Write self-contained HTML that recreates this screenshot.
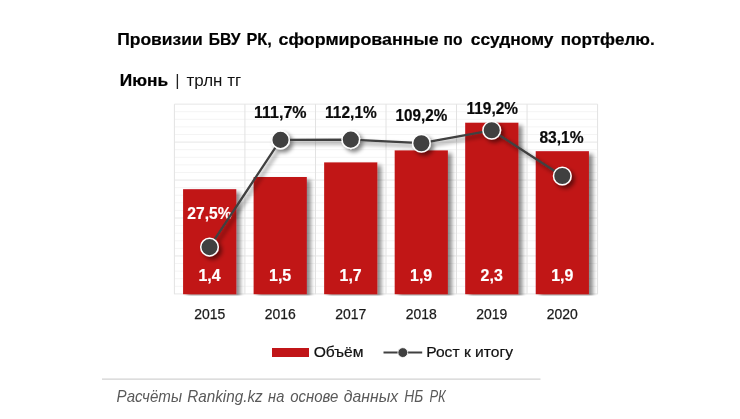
<!DOCTYPE html>
<html lang="ru"><head><meta charset="utf-8"><title>Провизии БВУ РК</title>
<style>
html,body{margin:0;padding:0;background:#fff;}
body{width:740px;height:419px;overflow:hidden;}
svg{display:block;font-family:"Liberation Sans",sans-serif;}
.b{font-weight:bold;}
.i{font-style:italic;}
</style></head><body>
<svg width="740" height="419" viewBox="0 0 740 419">
<defs>
<filter id="sb" x="-20%" y="-10%" width="150%" height="120%"><feGaussianBlur in="SourceAlpha" stdDeviation="2.3"/><feOffset dx="4" dy="3"/><feComponentTransfer><feFuncA type="linear" slope="0.46"/></feComponentTransfer><feMerge><feMergeNode/><feMergeNode in="SourceGraphic"/></feMerge></filter>
<filter id="sl" x="-10%" y="-10%" width="120%" height="130%"><feGaussianBlur in="SourceAlpha" stdDeviation="2.1"/><feOffset dx="3" dy="3"/><feComponentTransfer><feFuncA type="linear" slope="0.5"/></feComponentTransfer><feMerge><feMergeNode/><feMergeNode in="SourceGraphic"/></feMerge></filter>
<clipPath id="cp"><rect x="160" y="95" width="460" height="200.6"/></clipPath>
</defs>
<rect width="740" height="419" fill="#fff"/>
<text class="b" font-size="16.5" fill="#000" stroke="#000" stroke-width="0.2" y="44.6"><tspan x="117.2" textLength="85.5" lengthAdjust="spacingAndGlyphs">Провизии</tspan> <tspan x="208.8" textLength="31.7" lengthAdjust="spacingAndGlyphs">БВУ</tspan> <tspan x="246.5" textLength="25.3" lengthAdjust="spacingAndGlyphs">РК,</tspan> <tspan x="278.6" textLength="160.0" lengthAdjust="spacingAndGlyphs">сформированные</tspan> <tspan x="443.5" textLength="18.9" lengthAdjust="spacingAndGlyphs">по</tspan> <tspan x="470.8" textLength="82.7" lengthAdjust="spacingAndGlyphs">ссудному</tspan> <tspan x="560.7" textLength="94.0" lengthAdjust="spacingAndGlyphs">портфелю.</tspan></text>
<text font-size="16.4" fill="#000" y="85.6"><tspan class="b" stroke="#000" stroke-width="0.2" x="119.8" textLength="48.4" lengthAdjust="spacingAndGlyphs">Июнь</tspan> <tspan x="175.2" fill="#222">|</tspan> <tspan x="186.6" textLength="54.5" lengthAdjust="spacingAndGlyphs" fill="#111">трлн тг</tspan></text>
<g><line x1="174.4" x2="597.6" y1="104.15" y2="104.15" stroke="#e6e6e6" stroke-width="1"/><line x1="174.4" x2="597.6" y1="111.74" y2="111.74" stroke="#f4f4f4" stroke-width="1"/><line x1="174.4" x2="597.6" y1="119.33" y2="119.33" stroke="#f4f4f4" stroke-width="1"/><line x1="174.4" x2="597.6" y1="126.92" y2="126.92" stroke="#f4f4f4" stroke-width="1"/><line x1="174.4" x2="597.6" y1="134.51" y2="134.51" stroke="#f4f4f4" stroke-width="1"/><line x1="174.4" x2="597.6" y1="142.10" y2="142.10" stroke="#e6e6e6" stroke-width="1"/><line x1="174.4" x2="597.6" y1="149.69" y2="149.69" stroke="#f4f4f4" stroke-width="1"/><line x1="174.4" x2="597.6" y1="157.28" y2="157.28" stroke="#f4f4f4" stroke-width="1"/><line x1="174.4" x2="597.6" y1="164.87" y2="164.87" stroke="#f4f4f4" stroke-width="1"/><line x1="174.4" x2="597.6" y1="172.46" y2="172.46" stroke="#f4f4f4" stroke-width="1"/><line x1="174.4" x2="597.6" y1="180.05" y2="180.05" stroke="#e6e6e6" stroke-width="1"/><line x1="174.4" x2="597.6" y1="187.64" y2="187.64" stroke="#f4f4f4" stroke-width="1"/><line x1="174.4" x2="597.6" y1="195.23" y2="195.23" stroke="#f4f4f4" stroke-width="1"/><line x1="174.4" x2="597.6" y1="202.82" y2="202.82" stroke="#f4f4f4" stroke-width="1"/><line x1="174.4" x2="597.6" y1="210.41" y2="210.41" stroke="#f4f4f4" stroke-width="1"/><line x1="174.4" x2="597.6" y1="218.00" y2="218.00" stroke="#e6e6e6" stroke-width="1"/><line x1="174.4" x2="597.6" y1="225.59" y2="225.59" stroke="#f4f4f4" stroke-width="1"/><line x1="174.4" x2="597.6" y1="233.18" y2="233.18" stroke="#f4f4f4" stroke-width="1"/><line x1="174.4" x2="597.6" y1="240.77" y2="240.77" stroke="#f4f4f4" stroke-width="1"/><line x1="174.4" x2="597.6" y1="248.36" y2="248.36" stroke="#f4f4f4" stroke-width="1"/><line x1="174.4" x2="597.6" y1="255.95" y2="255.95" stroke="#e6e6e6" stroke-width="1"/><line x1="174.4" x2="597.6" y1="263.54" y2="263.54" stroke="#f4f4f4" stroke-width="1"/><line x1="174.4" x2="597.6" y1="271.13" y2="271.13" stroke="#f4f4f4" stroke-width="1"/><line x1="174.4" x2="597.6" y1="278.72" y2="278.72" stroke="#f4f4f4" stroke-width="1"/><line x1="174.4" x2="597.6" y1="286.31" y2="286.31" stroke="#f4f4f4" stroke-width="1"/><line x1="174.4" x2="597.6" y1="293.90" y2="293.90" stroke="#e6e6e6" stroke-width="1"/><line x1="174.40" x2="174.40" y1="104.15" y2="294.2" stroke="#e2e2e2" stroke-width="1"/><line x1="244.93" x2="244.93" y1="104.15" y2="294.2" stroke="#e2e2e2" stroke-width="1"/><line x1="315.47" x2="315.47" y1="104.15" y2="294.2" stroke="#e2e2e2" stroke-width="1"/><line x1="386.00" x2="386.00" y1="104.15" y2="294.2" stroke="#e2e2e2" stroke-width="1"/><line x1="456.53" x2="456.53" y1="104.15" y2="294.2" stroke="#e2e2e2" stroke-width="1"/><line x1="527.07" x2="527.07" y1="104.15" y2="294.2" stroke="#e2e2e2" stroke-width="1"/><line x1="597.60" x2="597.60" y1="104.15" y2="294.2" stroke="#e2e2e2" stroke-width="1"/></g>
<g clip-path="url(#cp)"><g filter="url(#sb)" fill="#c11518"><rect x="183.07" y="189.2" width="53.2" height="105.00"/><rect x="253.60" y="177.0" width="53.2" height="117.20"/><rect x="324.13" y="162.4" width="53.2" height="131.80"/><rect x="394.67" y="150.4" width="53.2" height="143.80"/><rect x="465.20" y="122.7" width="53.2" height="171.50"/><rect x="535.73" y="151.2" width="53.2" height="143.00"/></g></g>
<g class="b" font-size="16.4" fill="#fff" stroke="#fff" stroke-width="0.2"><text x="198.47" y="281.4" textLength="22.2" lengthAdjust="spacingAndGlyphs">1,4</text><text x="269.00" y="281.4" textLength="22.2" lengthAdjust="spacingAndGlyphs">1,5</text><text x="339.53" y="281.4" textLength="22.2" lengthAdjust="spacingAndGlyphs">1,7</text><text x="410.07" y="281.4" textLength="22.2" lengthAdjust="spacingAndGlyphs">1,9</text><text x="480.60" y="281.4" textLength="22.2" lengthAdjust="spacingAndGlyphs">2,3</text><text x="551.13" y="281.4" textLength="22.2" lengthAdjust="spacingAndGlyphs">1,9</text></g>
<g class="b" font-size="16.4"><text x="187.3" y="218.7" fill="#fff" stroke="#fff" stroke-width="0.2" textLength="44.2" lengthAdjust="spacingAndGlyphs">27,5%</text><text x="254.1" y="118.0" fill="#0a0a0a" stroke="#0a0a0a" stroke-width="0.2" textLength="52.5" lengthAdjust="spacingAndGlyphs">111,7%</text><text x="325.1" y="118.0" fill="#0a0a0a" stroke="#0a0a0a" stroke-width="0.2" textLength="51.7" lengthAdjust="spacingAndGlyphs">112,1%</text><text x="395.6" y="120.8" fill="#0a0a0a" stroke="#0a0a0a" stroke-width="0.2" textLength="51.7" lengthAdjust="spacingAndGlyphs">109,2%</text><text x="466.5" y="114.2" fill="#0a0a0a" stroke="#0a0a0a" stroke-width="0.2" textLength="51.5" lengthAdjust="spacingAndGlyphs">119,2%</text><text x="539.4" y="142.8" fill="#0a0a0a" stroke="#0a0a0a" stroke-width="0.2" textLength="44.2" lengthAdjust="spacingAndGlyphs">83,1%</text></g>
<g filter="url(#sl)"><polyline points="209.5,247.1 280.5,139.9 350.8,139.6 421.4,143.2 491.7,130.3 562.3,176.0" fill="none" stroke="#404040" stroke-width="2.3" stroke-linejoin="round"/><circle cx="209.5" cy="247.1" r="8.8" fill="#404040" stroke="#fff" stroke-width="1.5"/><circle cx="280.5" cy="139.9" r="8.8" fill="#404040" stroke="#fff" stroke-width="1.5"/><circle cx="350.8" cy="139.6" r="8.8" fill="#404040" stroke="#fff" stroke-width="1.5"/><circle cx="421.4" cy="143.2" r="8.8" fill="#404040" stroke="#fff" stroke-width="1.5"/><circle cx="491.7" cy="130.3" r="8.8" fill="#404040" stroke="#fff" stroke-width="1.5"/><circle cx="562.3" cy="176.0" r="8.8" fill="#404040" stroke="#fff" stroke-width="1.5"/></g>
<g font-size="14.4" fill="#1a1a1a" stroke="#1a1a1a" stroke-width="0.25"><text x="194.17" y="318.8" textLength="31" lengthAdjust="spacingAndGlyphs">2015</text><text x="264.70" y="318.8" textLength="31" lengthAdjust="spacingAndGlyphs">2016</text><text x="335.23" y="318.8" textLength="31" lengthAdjust="spacingAndGlyphs">2017</text><text x="405.77" y="318.8" textLength="31" lengthAdjust="spacingAndGlyphs">2018</text><text x="476.30" y="318.8" textLength="31" lengthAdjust="spacingAndGlyphs">2019</text><text x="546.83" y="318.8" textLength="31" lengthAdjust="spacingAndGlyphs">2020</text></g>
<rect x="272" y="348" width="37" height="9" fill="#c11518"/><text x="313.7" y="356.7" font-size="14.9" fill="#111" stroke="#111" stroke-width="0.2" textLength="49.8" lengthAdjust="spacingAndGlyphs">Объём</text><line x1="383.5" x2="422.2" y1="352.6" y2="352.6" stroke="#404040" stroke-width="2"/><circle cx="402.8" cy="352.6" r="4.9" fill="#404040" stroke="#fff" stroke-width="0.8"/><text x="426.2" y="356.8" font-size="14.7" fill="#111" stroke="#111" stroke-width="0.2" textLength="86.8" lengthAdjust="spacingAndGlyphs">Рост к итогу</text>
<line x1="102" x2="540.5" y1="379.1" y2="379.1" stroke="#d2d2d2" stroke-width="1.2"/><text class="i" font-size="15.7" fill="#595959" y="402.4"><tspan x="116.6" textLength="65.4" lengthAdjust="spacingAndGlyphs">Расчёты</tspan> <tspan x="187.2" textLength="75.5" lengthAdjust="spacingAndGlyphs">Ranking.kz</tspan> <tspan x="268.1" textLength="16.2" lengthAdjust="spacingAndGlyphs">на</tspan> <tspan x="290.2" textLength="48.2" lengthAdjust="spacingAndGlyphs">основе</tspan> <tspan x="343.8" textLength="54.4" lengthAdjust="spacingAndGlyphs">данных</tspan> <tspan x="404.3" textLength="19.0" lengthAdjust="spacingAndGlyphs">НБ</tspan> <tspan x="429.4" textLength="16.3" lengthAdjust="spacingAndGlyphs">РК</tspan></text>
</svg>
</body></html>
